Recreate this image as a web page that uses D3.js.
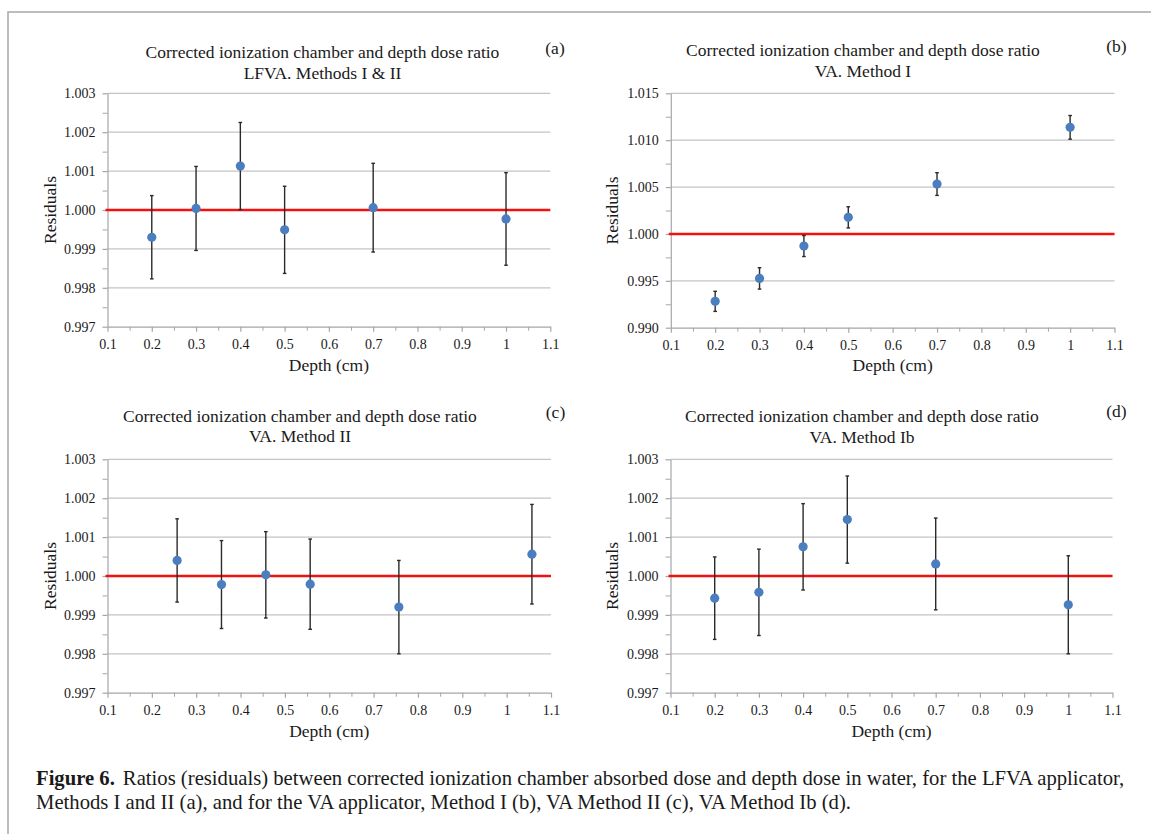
<!DOCTYPE html>
<html><head><meta charset="utf-8">
<script src="https://cdn.jsdelivr.net/npm/d3@7"></script>
<style>
body{margin:0;background:#fff;}
svg{display:block;}
text{font-family:"Liberation Serif","Times New Roman",serif;fill:#1a1a1a;}
</style></head><body>
<svg id="chart" width="1151" height="834"></svg>
<script>
// ---- data ----
const depthsA = [0.2, 0.3, 0.4, 0.5, 0.7, 1.0];
const residA  = [0.99930, 1.00004, 1.00113, 0.99949, 1.00006, 0.99977];
const errA    = [0.00107, 0.00108, 0.00112, 0.00112, 0.00114, 0.00119];

const depthsB = [0.2, 0.3, 0.4, 0.5, 0.7, 1.0];
const residB  = [0.99281, 0.99526, 0.99871, 1.00177, 1.00532, 1.01137];
const errB    = [0.00107, 0.00114, 0.00112, 0.00113, 0.00121, 0.00126];

const depthsC = [0.257, 0.357, 0.457, 0.557, 0.757, 1.057];
const residC  = [1.00040, 0.99978, 1.00003, 0.99979, 0.99920, 1.00056];
const errC    = [0.00107, 0.00113, 0.00111, 0.00116, 0.00120, 0.00128];

const depthsD = [0.2, 0.3, 0.4, 0.5, 0.7, 1.0];
const residD  = [0.99943, 0.99958, 1.00075, 1.00145, 1.00031, 0.99926];
const errD    = [0.00106, 0.00111, 0.00111, 0.00112, 0.00118, 0.00126];

const referenceValue = 1.000;

const xTicks      = [0.1, 0.2, 0.3, 0.4, 0.5, 0.6, 0.7, 0.8, 0.9, 1.0, 1.1];
const xTickLabels = ["0.1","0.2","0.3","0.4","0.5","0.6","0.7","0.8","0.9","1","1.1"];
const xMinorTicks = [0.15, 0.25, 0.35, 0.45, 0.55, 0.65, 0.75, 0.85, 0.95, 1.05];

const yTicksFine      = [0.997, 0.998, 0.999, 1.000, 1.001, 1.002, 1.003];
const yTickLabelsFine = ["0.997","0.998","0.999","1.000","1.001","1.002","1.003"];
const yMinorFine      = [0.9975, 0.9985, 0.9995, 1.0005, 1.0015, 1.0025];

const yTicksWide      = [0.990, 0.995, 1.000, 1.005, 1.010, 1.015];
const yTickLabelsWide = ["0.990","0.995","1.000","1.005","1.010","1.015"];
const yMinorWide      = [0.9925, 0.9975, 1.0025, 1.0075, 1.0125];

const titleLine1 = "Corrected ionization chamber and depth dose ratio";
const subtitles  = ["LFVA. Methods I & II", "VA. Method I", "VA. Method II", "VA. Method Ib"];
const panelTags  = ["(a)", "(b)", "(c)", "(d)"];
const xAxisTitle = "Depth (cm)";
const yAxisTitle = "Residuals";

const captionBold  = "Figure 6.";
const captionLine1 = "Ratios (residuals) between corrected ionization chamber absorbed dose and depth dose in water, for the LFVA applicator,";
const captionLine2 = "Methods I and II (a), and for the VA applicator, Method I (b), VA Method II (c), VA Method Ib (d).";

// ---- layout ----
const panels = [
  {x:depthsA, y:residA, e:errA, yT:yTicksFine, yL:yTickLabelsFine, yM:yMinorFine,
   left:107.5, right:550.3, top:93.3, bottom:326.7, titleX:322.5, t1:58.3, t2:78.8, tagX:555, tagY:53.5, ylabX:50.5, xlabY:371},
  {x:depthsB, y:residB, e:errB, yT:yTicksWide, yL:yTickLabelsWide, yM:yMinorWide,
   left:670.8, right:1114.5, top:93.3, bottom:327.7, titleX:863, t1:56.3, t2:76.8, tagX:1116.5, tagY:52, ylabX:612.6, xlabY:371},
  {x:depthsC, y:residC, e:errC, yT:yTicksFine, yL:yTickLabelsFine, yM:yMinorFine,
   left:107.5, right:551, top:459.3, bottom:692.7, titleX:300, t1:421.7, t2:442.3, tagX:555.5, tagY:417.5, ylabX:50.5, xlabY:736.7},
  {x:depthsD, y:residD, e:errD, yT:yTicksFine, yL:yTickLabelsFine, yM:yMinorFine,
   left:670.5, right:1112.5, top:459.3, bottom:692.7, titleX:862, t1:421.7, t2:442.5, tagX:1116.5, tagY:417, ylabX:612.6, xlabY:736.7}
];

const svg = d3.select("#chart");
svg.append("rect").attr("width",1151).attr("height",834).attr("fill","#fff");

// outer frame (top and left visible)
svg.append("path").attr("d","M8,834 V12 H1151").attr("fill","none")
  .attr("stroke","#a8a8a8").attr("stroke-width",1.5);

const gridColor = "#c4c4c4", axisColor = "#a6a6a6";

panels.forEach((p, i) => {
  const x = d3.scaleLinear().domain([xTicks[0], xTicks[xTicks.length-1]]).range([p.left, p.right]);
  const y = d3.scaleLinear().domain([p.yT[0], p.yT[p.yT.length-1]]).range([p.bottom, p.top]);
  const g = svg.append("g");

  // gridlines
  g.append("g").selectAll("line").data(p.yT.slice(1)).join("line")
    .attr("x1", p.left).attr("x2", p.right)
    .attr("y1", d => y(d)).attr("y2", d => y(d))
    .attr("stroke", gridColor).attr("stroke-width", 1.2);

  // minor ticks
  g.append("g").attr("transform", `translate(${p.left},0)`)
    .call(d3.axisLeft(y).tickValues(p.yM).tickSize(5).tickSizeOuter(0).tickFormat(""))
    .call(a => { a.select(".domain").remove(); a.selectAll("line").attr("stroke", axisColor); });
  g.append("g").attr("transform", `translate(0,${p.bottom})`)
    .call(d3.axisBottom(x).tickValues(xMinorTicks).tickSize(4).tickSizeOuter(0).tickFormat(""))
    .call(a => { a.select(".domain").remove(); a.selectAll("line").attr("stroke", axisColor); });

  // y axis
  g.append("g").attr("transform", `translate(${p.left},0)`)
    .call(d3.axisLeft(y).tickValues(p.yT).tickSize(5).tickSizeOuter(0).tickPadding(7)
      .tickFormat((d, k) => p.yL[k]))
    .call(a => {
      a.select(".domain").attr("stroke", axisColor).attr("stroke-width", 1.2);
      a.selectAll("line").attr("stroke", axisColor).attr("stroke-width", 1.2);
      a.selectAll("text").attr("font-size", 14).attr("fill", "#1a1a1a")
        .attr("font-family", "'Liberation Serif','Times New Roman',serif");
    });

  // x axis
  g.append("g").attr("transform", `translate(0,${p.bottom})`)
    .call(d3.axisBottom(x).tickValues(xTicks).tickSize(5).tickSizeOuter(0).tickPadding(7)
      .tickFormat((d, k) => xTickLabels[k]))
    .call(a => {
      a.select(".domain").attr("stroke", axisColor).attr("stroke-width", 1.2);
      a.selectAll("line").attr("stroke", axisColor).attr("stroke-width", 1.2);
      a.selectAll("text").attr("font-size", 14).attr("fill", "#1a1a1a")
        .attr("font-family", "'Liberation Serif','Times New Roman',serif");
    });

  // reference line at 1.000
  g.append("line")
    .attr("x1", x(xTicks[0]) - 2).attr("x2", x(xTicks[xTicks.length-1]))
    .attr("y1", y(referenceValue)).attr("y2", y(referenceValue))
    .attr("stroke", "#f50f0f").attr("stroke-width", 2.4);

  const pts = p.x.map((d, k) => ({dx: d, v: p.y[k], e: p.e[k]}));

  // error bars
  const eb = g.append("g").attr("stroke", "#2a2a2a").attr("stroke-width", 1.4);
  eb.selectAll("line.v").data(pts).join("line").attr("class","v")
    .attr("x1", d => x(d.dx)).attr("x2", d => x(d.dx))
    .attr("y1", d => y(d.v - d.e)).attr("y2", d => y(d.v + d.e));
  eb.selectAll("line.t").data(pts).join("line").attr("class","t")
    .attr("x1", d => x(d.dx) - 1.8).attr("x2", d => x(d.dx) + 1.8)
    .attr("y1", d => y(d.v + d.e)).attr("y2", d => y(d.v + d.e));
  eb.selectAll("line.b").data(pts).join("line").attr("class","b")
    .attr("x1", d => x(d.dx) - 1.8).attr("x2", d => x(d.dx) + 1.8)
    .attr("y1", d => y(d.v - d.e)).attr("y2", d => y(d.v - d.e));

  // points
  g.append("g").selectAll("circle").data(pts).join("circle")
    .attr("cx", d => x(d.dx)).attr("cy", d => y(d.v)).attr("r", 4.6)
    .attr("fill", "#4a7ebf");

  // titles
  g.append("text").attr("x", p.titleX).attr("y", p.t1).attr("text-anchor","middle")
    .attr("font-size", 17.5).text(titleLine1);
  g.append("text").attr("x", p.titleX).attr("y", p.t2).attr("text-anchor","middle")
    .attr("font-size", 17.5).text(subtitles[i]);
  g.append("text").attr("x", p.tagX).attr("y", p.tagY).attr("text-anchor","middle")
    .attr("font-size", 17.5).text(panelTags[i]);

  // axis titles
  g.append("text").attr("x", (p.left + p.right) / 2).attr("y", p.xlabY).attr("text-anchor","middle")
    .attr("font-size", 17.5).text(xAxisTitle);
  g.append("text").attr("transform", `translate(${p.ylabX + 5.8},${(p.top + p.bottom) / 2}) rotate(-90)`)
    .attr("text-anchor","middle").attr("font-size", 17.5).text(yAxisTitle);
});

// caption
const capFont = "'Liberation Serif','Times New Roman',serif";
const c1 = svg.append("text").attr("x", 36).attr("y", 785).attr("font-size", 18).attr("fill","#231f20");
c1.append("tspan").attr("font-weight","bold").text(captionBold);
c1.append("tspan").attr("dx", 8).text(captionLine1);
const c2 = svg.append("text").attr("x", 36).attr("y", 808.5).attr("font-size", 18).attr("fill","#231f20").text(captionLine2);
// fit caption size to the reference line width
const w1 = c1.node().getComputedTextLength();
const fs = 18 * (1081 / w1);
c1.attr("font-size", fs);
c2.attr("font-size", fs);
</script>
</body></html>
